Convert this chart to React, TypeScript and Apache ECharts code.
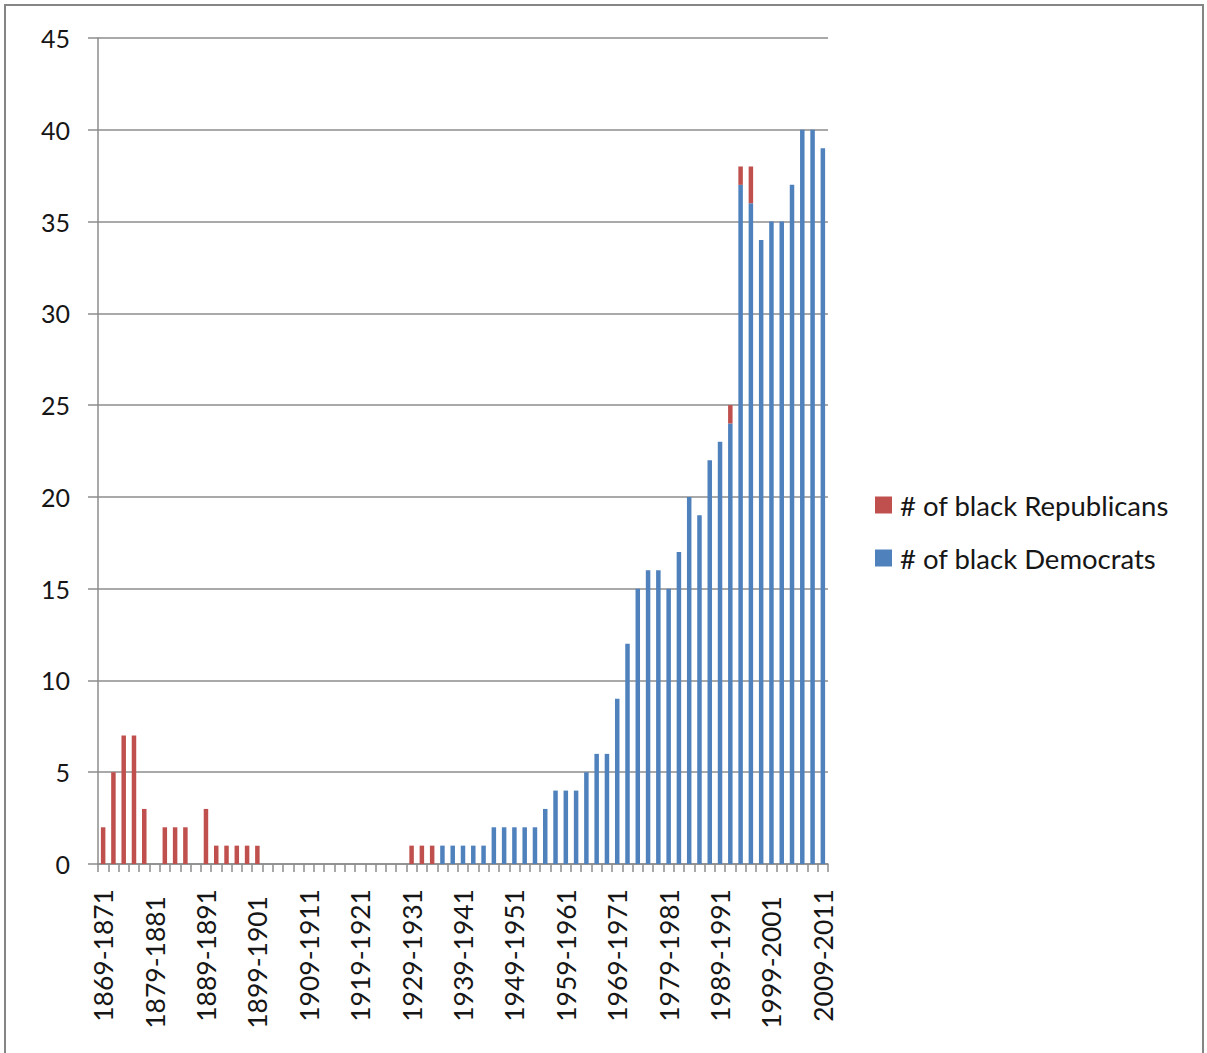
import React, { useEffect, useRef } from "react";
import * as echarts from "echarts";

// Two-year congressional terms, 41st through 111th Congress
const congresses: string[] = [
  "1869-1871", "1871-1873", "1873-1875", "1875-1877", "1877-1879",
  "1879-1881", "1881-1883", "1883-1885", "1885-1887", "1887-1889",
  "1889-1891", "1891-1893", "1893-1895", "1895-1897", "1897-1899",
  "1899-1901", "1901-1903", "1903-1905", "1905-1907", "1907-1909",
  "1909-1911", "1911-1913", "1913-1915", "1915-1917", "1917-1919",
  "1919-1921", "1921-1923", "1923-1925", "1925-1927", "1927-1929",
  "1929-1931", "1931-1933", "1933-1935", "1935-1937", "1937-1939",
  "1939-1941", "1941-1943", "1943-1945", "1945-1947", "1947-1949",
  "1949-1951", "1951-1953", "1953-1955", "1955-1957", "1957-1959",
  "1959-1961", "1961-1963", "1963-1965", "1965-1967", "1967-1969",
  "1969-1971", "1971-1973", "1973-1975", "1975-1977", "1977-1979",
  "1979-1981", "1981-1983", "1983-1985", "1985-1987", "1987-1989",
  "1989-1991", "1991-1993", "1993-1995", "1995-1997", "1997-1999",
  "1999-2001", "2001-2003", "2003-2005", "2005-2007", "2007-2009",
  "2009-2011",
];

const blackRepublicans: number[] = [
  2, 5, 7, 7, 3, 0, 2, 2, 2, 0,
  3, 1, 1, 1, 1, 1, 0, 0, 0, 0,
  0, 0, 0, 0, 0, 0, 0, 0, 0, 0,
  1, 1, 1, 0, 0, 0, 0, 0, 0, 0,
  0, 0, 0, 0, 0, 0, 0, 0, 0, 0,
  0, 0, 0, 0, 0, 0, 0, 0, 0, 0,
  0, 1, 1, 2, 0, 0, 0, 0, 0, 0,
  0,
];

const blackDemocrats: number[] = [
  0, 0, 0, 0, 0, 0, 0, 0, 0, 0,
  0, 0, 0, 0, 0, 0, 0, 0, 0, 0,
  0, 0, 0, 0, 0, 0, 0, 0, 0, 0,
  0, 0, 0, 1, 1, 1, 1, 1, 2, 2,
  2, 2, 2, 3, 4, 4, 4, 5, 6, 6,
  9, 12, 15, 16, 16, 15, 17, 20, 19, 22,
  23, 24, 37, 36, 34, 35, 35, 37, 40, 40,
  39,
];

const yTicks = { min: 0, max: 45, step: 5 };

const seriesNames = ["# of black Republicans", "# of black Democrats"];

// category labels that sit a little further from the axis
const droppedLabels = new Set<number>([5, 15, 65]);

const FONT = "Lato, 'Noto Sans', sans-serif";
const TEXT = "#161616";
const AXIS_GREY = "#8c8c8c";

export default function App() {
  const ref = useRef<HTMLDivElement>(null);

  useEffect(() => {
    if (!ref.current) return;
    const chart = echarts.init(ref.current, null, { renderer: "svg" });
    chart.setOption({
      animation: false,
      backgroundColor: "#ffffff",
      grid: { left: 98, top: 38, width: 730, height: 826, containLabel: false },
      legend: {
        orient: "vertical",
        left: 875,
        top: 491,
        padding: 0,
        itemWidth: 17,
        itemHeight: 17,
        itemGap: 25,
        icon: "rect",
        data: [seriesNames[0], seriesNames[1]],
        textStyle: {
          fontFamily: FONT,
          fontSize: 27.5,
          lineHeight: 28,
          color: TEXT,
          padding: [0, 0, 0, 3],
        },
      },
      xAxis: {
        type: "category",
        data: congresses,
        boundaryGap: true,
        axisLine: { show: true, lineStyle: { color: AXIS_GREY, width: 1.5 } },
        axisTick: {
          show: true,
          interval: 0,
          alignWithLabel: false,
          length: 8,
          lineStyle: { color: AXIS_GREY, width: 1.5 },
        },
        axisLabel: {
          interval: 4,
          rotate: 90,
          margin: 25,
          fontFamily: FONT,
          fontSize: 26.5,
          color: TEXT,
          formatter: (value: string, idx: number) =>
            droppedLabels.has(idx) ? `{d|${value}}` : `{n|${value}}`,
          rich: {
            n: { fontFamily: FONT, fontSize: 26.5, color: TEXT },
            d: { fontFamily: FONT, fontSize: 26.5, color: TEXT, padding: [0, 7, 0, 0] },
          },
        },
        splitLine: { show: false },
      },
      yAxis: {
        type: "value",
        min: yTicks.min,
        max: yTicks.max,
        interval: yTicks.step,
        axisLine: { show: true, lineStyle: { color: AXIS_GREY, width: 1.5 } },
        axisTick: { show: true, length: 10, inside: false, lineStyle: { color: AXIS_GREY, width: 1.5 } },
        axisLabel: {
          margin: 28,
          fontFamily: FONT,
          fontSize: 25,
          color: TEXT,
        },
        splitLine: { show: true, lineStyle: { color: AXIS_GREY, width: 1.5 } },
      },
      series: [
        {
          name: seriesNames[1],
          type: "bar",
          stack: "members",
          data: blackDemocrats,
          barWidth: 4.5,
          itemStyle: { color: "#4f81bd" },
        },
        {
          name: seriesNames[0],
          type: "bar",
          stack: "members",
          data: blackRepublicans,
          barWidth: 4.5,
          itemStyle: { color: "#c0504d" },
        },
      ],
    });
    return () => chart.dispose();
  }, []);

  return (
    <div style={{ position: "fixed", left: 0, top: 0, width: 1207, height: 1053, background: "#ffffff" }}>
      <div
        ref={ref}
        style={{ position: "absolute", left: 0, top: 0, width: 1207, height: 1053 }}
      />
      <div
        style={{
          position: "absolute",
          left: 4,
          top: 4,
          width: 1200,
          height: 1070,
          border: "2.5px solid #858585",
          boxSizing: "border-box",
          pointerEvents: "none",
        }}
      />
    </div>
  );
}
